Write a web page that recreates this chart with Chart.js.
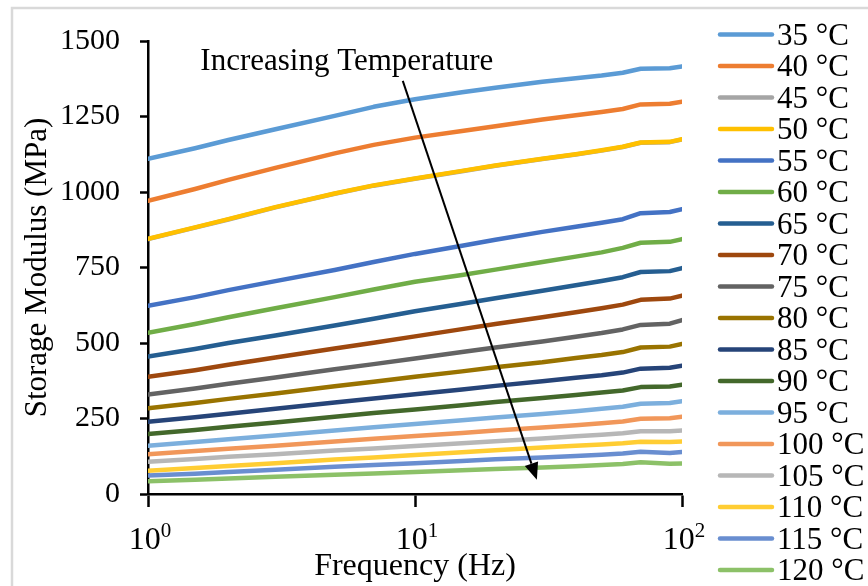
<!DOCTYPE html>
<html>
<head>
<meta charset="utf-8">
<title>Storage Modulus vs Frequency</title>
<script src="https://cdn.jsdelivr.net/npm/chart.js@4.4.1/dist/chart.umd.min.js"></script>
<style>
  html, body { margin: 0; padding: 0; background: #ffffff; }
  #wrap { position: relative; width: 868px; height: 586px; }
  canvas { display: block; }
</style>
</head>
<body>
<div id="wrap"><canvas id="chart" width="868" height="586"></canvas></div>
<script>
// Frequency sweep points (Hz)
const frequencies = [1, 1.5, 2, 3, 5, 7, 10, 15, 20, 30, 40, 50, 60, 70, 90, 100];

const temperatures = ['35 °C', '40 °C', '45 °C', '50 °C', '55 °C', '60 °C', '65 °C', '70 °C', '75 °C',
  '80 °C', '85 °C', '90 °C', '95 °C', '100 °C', '105 °C', '110 °C', '115 °C', '120 °C'];

// Storage modulus (MPa) at each frequency, one array per temperature
const e35  = [1110, 1145, 1172, 1208, 1252, 1282, 1307, 1330, 1345, 1365, 1377, 1386, 1395, 1408, 1410, 1416];
const e40  = [971, 1010, 1040, 1080, 1128, 1156, 1180, 1202, 1218, 1240, 1254, 1265, 1275, 1290, 1292, 1299];
const e45  = [844, 882, 909, 949, 994, 1021, 1044, 1069, 1087, 1109, 1124, 1137, 1149, 1163, 1165, 1174];
const e50  = [845, 883, 910, 950, 995, 1022, 1045, 1070, 1088, 1110, 1125, 1138, 1150, 1164, 1166, 1175];
const e55  = [623, 652, 675, 705, 742, 768, 795, 822, 842, 868, 885, 898, 910, 930, 934, 943];
const e60  = [534, 563, 585, 615, 652, 677, 703, 725, 743, 768, 786, 800, 815, 832, 835, 844];
const e65  = [455, 480, 500, 525, 558, 580, 605, 630, 648, 673, 691, 705, 718, 735, 738, 748];
const e70  = [388, 410, 428, 452, 482, 501, 522, 546, 563, 585, 602, 615, 627, 643, 647, 657];
const e75  = [329, 349, 365, 386, 413, 430, 449, 470, 485, 505, 521, 533, 545, 560, 564, 576];
const e80  = [284, 301, 315, 333, 357, 372, 388, 406, 420, 436, 450, 460, 470, 485, 488, 497];
const e85  = [239, 254, 266, 282, 303, 316, 330, 346, 358, 373, 385, 393, 402, 415, 418, 425];
const e90  = [199, 212, 223, 237, 256, 268, 280, 294, 305, 318, 328, 336, 343, 354, 356, 362];
const e95  = [160, 172, 181, 194, 210, 221, 232, 244, 253, 265, 274, 282, 289, 299, 301, 307];
const e100 = [132, 142, 150, 160, 174, 183, 192, 202, 210, 220, 228, 234, 240, 249, 251, 256];
const e105 = [107, 116, 123, 132, 144, 151, 159, 168, 175, 184, 191, 196, 201, 208, 208, 210];
const e110 = [77, 86, 93, 102, 114, 121, 129, 138, 145, 154, 160, 164, 168, 173, 172, 174];
const e115 = [61, 67, 73, 80, 90, 96, 102, 109, 115, 121, 126, 130, 134, 140, 136, 139];
const e120 = [42, 47, 51, 57, 64, 68, 73, 79, 83, 88, 92, 96, 99, 105, 100, 101];

const modulusSeries = [e35, e40, e45, e50, e55, e60, e65, e70, e75, e80, e85, e90, e95, e100, e105, e110, e115, e120];

const seriesColors = ['#5B9BD5', '#ED7D31', '#A5A5A5', '#FFC000', '#4472C4', '#70AD47', '#255E91', '#9E480E', '#636363',
  '#997300', '#264478', '#43682B', '#7CAFDD', '#F1975A', '#B7B7B7', '#FFCD33', '#698ED0', '#8CC168'];

// Axis ticks
const yTickValues = [0, 250, 500, 750, 1000, 1250, 1500];
const xTickExponents = [0, 1, 2];

// Trend annotation (frequency, modulus)
const noteText = 'Increasing Temperature';
const noteAnchor = [1.57, 1405];
const arrowFrom = [9.0, 1368];
const arrowTo = [28.6, 47];

const SERIF = "'Liberation Serif', 'Times New Roman', serif";

const datasets = temperatures.map((label, i) => ({
  label: label,
  data: frequencies.map((f, k) => ({ x: f, y: modulusSeries[i][k] })),
  borderColor: seriesColors[i],
  backgroundColor: seriesColors[i],
  borderWidth: 4.5,
  borderCapStyle: 'round',
  borderJoinStyle: 'round',
  pointRadius: 0,
  tension: 0,
  fill: false,
  order: temperatures.length - i
}));

// Light frame around the figure
const framePlugin = {
  id: 'frame',
  beforeDraw(chart) {
    const ctx = chart.ctx;
    ctx.save();
    ctx.strokeStyle = '#d9d9d9';
    ctx.lineWidth = 2.5;
    ctx.strokeRect(12, 8, chart.width + 20, chart.height + 20);
    ctx.restore();
  }
};

// Power-of-ten labels for the logarithmic frequency axis
const decadeLabelsPlugin = {
  id: 'decadeLabels',
  afterDraw(chart) {
    const ctx = chart.ctx;
    const xs = chart.scales.x;
    const baseY = xs.top + 55;
    ctx.save();
    ctx.fillStyle = '#000';
    ctx.textBaseline = 'alphabetic';
    ctx.textAlign = 'left';
    xTickExponents.forEach(e => {
      const px = xs.getPixelForValue(Math.pow(10, e));
      ctx.font = '32px ' + SERIF;
      const wBase = ctx.measureText('10').width;
      ctx.font = '21px ' + SERIF;
      const wExp = ctx.measureText(String(e)).width;
      const left = px - (wBase + wExp) / 2 + 2;
      ctx.font = '32px ' + SERIF;
      ctx.fillText('10', left, baseY);
      ctx.font = '21px ' + SERIF;
      ctx.fillText(String(e), left + wBase, baseY - 12);
    });
    ctx.restore();
  }
};

// Legend column at the right
const sideLegendPlugin = {
  id: 'sideLegend',
  afterDraw(chart) {
    const ctx = chart.ctx;
    ctx.save();
    chart.data.datasets.forEach((ds, i) => {
      const y = 34.5 + i * 31.5;
      ctx.strokeStyle = ds.borderColor;
      ctx.lineWidth = 4.5;
      ctx.lineCap = 'round';
      ctx.beginPath();
      ctx.moveTo(720, y);
      ctx.lineTo(772, y);
      ctx.stroke();
      ctx.fillStyle = '#000';
      ctx.font = '31px ' + SERIF;
      ctx.textAlign = 'left';
      ctx.textBaseline = 'middle';
      ctx.fillText(ds.label, 777, y + 2);
    });
    ctx.restore();
  }
};

// Arrow and caption showing the temperature trend
const trendPlugin = {
  id: 'trend',
  afterDatasetsDraw(chart) {
    const ctx = chart.ctx;
    const xs = chart.scales.x, ys = chart.scales.y;
    const x1 = xs.getPixelForValue(arrowFrom[0]), y1 = ys.getPixelForValue(arrowFrom[1]);
    const x2 = xs.getPixelForValue(arrowTo[0]), y2 = ys.getPixelForValue(arrowTo[1]);
    const ang = Math.atan2(y2 - y1, x2 - x1);
    const headLen = 17, headHalf = 7;
    const bx = x2 - headLen * Math.cos(ang), by = y2 - headLen * Math.sin(ang);
    ctx.save();
    ctx.strokeStyle = '#000';
    ctx.fillStyle = '#000';
    ctx.lineWidth = 2;
    ctx.beginPath();
    ctx.moveTo(x1, y1);
    ctx.lineTo(bx, by);
    ctx.stroke();
    ctx.beginPath();
    ctx.moveTo(x2, y2);
    ctx.lineTo(bx + headHalf * Math.sin(ang), by - headHalf * Math.cos(ang));
    ctx.lineTo(bx - headHalf * Math.sin(ang), by + headHalf * Math.cos(ang));
    ctx.closePath();
    ctx.fill();
    ctx.font = '31px ' + SERIF;
    ctx.textAlign = 'left';
    ctx.textBaseline = 'alphabetic';
    ctx.fillText(noteText, xs.getPixelForValue(noteAnchor[0]), ys.getPixelForValue(noteAnchor[1]));
    ctx.restore();
  }
};

new Chart(document.getElementById('chart'), {
  type: 'line',
  data: { datasets: datasets },
  plugins: [framePlugin, trendPlugin, decadeLabelsPlugin, sideLegendPlugin],
  options: {
    responsive: false,
    animation: false,
    devicePixelRatio: 1,
    layout: { padding: { top: 41, right: 186, bottom: 0, left: 0 } },
    plugins: {
      legend: { display: false },
      tooltip: { enabled: false }
    },
    scales: {
      x: {
        type: 'logarithmic',
        min: 1,
        max: 100,
        afterBuildTicks: s => { s.ticks = xTickExponents.map(e => ({ value: Math.pow(10, e) })); },
        afterFit: s => { s.height = 92; },
        ticks: { display: false },
        grid: { drawOnChartArea: false, drawTicks: true, tickLength: 13, tickWidth: 2.5, tickColor: '#000' },
        border: { display: true, color: '#000', width: 2.5 },
        title: {
          display: true,
          text: 'Frequency (Hz)',
          color: '#000',
          font: { family: SERIF, size: 32, lineHeight: 1 },
          padding: { top: 0, bottom: 3 }
        }
      },
      y: {
        min: 0,
        max: 1500,
        afterBuildTicks: s => { s.ticks = yTickValues.map(v => ({ value: v })); },
        afterFit: s => { s.width = 148; },
        ticks: {
          color: '#000',
          padding: 20,
          font: { family: SERIF, size: 30 },
          callback: v => String(v)
        },
        grid: { drawOnChartArea: false, drawTicks: true, tickLength: 8, tickWidth: 2.5, tickColor: '#000' },
        border: { display: true, color: '#000', width: 2.5 },
        title: {
          display: true,
          text: 'Storage Modulus (MPa)',
          color: '#000',
          font: { family: SERIF, size: 31, lineHeight: 1 },
          padding: { top: 22, bottom: 0 }
        }
      }
    }
  }
});
</script>
</body>
</html>
